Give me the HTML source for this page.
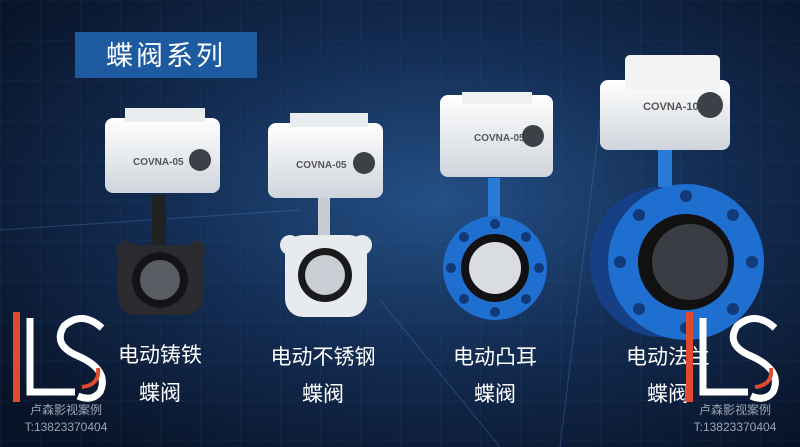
<!DOCTYPE html>
<html><head><meta charset="utf-8"><style>
html,body{margin:0;padding:0;width:800px;height:447px;overflow:hidden;background:#0b1830}
</style></head><body>
<svg width="800" height="447" viewBox="0 0 800 447" xmlns="http://www.w3.org/2000/svg" style="font-family:'Liberation Sans','Noto Sans CJK SC',sans-serif">
<defs>
<radialGradient id="bg" cx="0.55" cy="0.45" r="0.7">
<stop offset="0" stop-color="#245086"/><stop offset="0.5" stop-color="#132c52"/><stop offset="1" stop-color="#081327"/>
</radialGradient>
<linearGradient id="act" x1="0" y1="0" x2="0" y2="1"><stop offset="0" stop-color="#ffffff"/><stop offset="1" stop-color="#cfd5dc"/></linearGradient>
<pattern id="grid" width="40" height="40" patternUnits="userSpaceOnUse"><path d="M40 0H0V40" fill="none" stroke="#3a6aa0" stroke-opacity="0.18" stroke-width="1"/></pattern>
</defs>
<rect width="800" height="447" fill="url(#bg)"/>
<rect width="800" height="447" fill="url(#grid)"/>
<path d="M380 300 L500 447 M600 120 L560 447 M0 230 L300 210" stroke="#4b86c8" stroke-opacity="0.35"/>
<rect x="75" y="32" width="182" height="46" fill="#1d5aa0"/>
<text x="166" y="65" fill="#fff" font-size="27" text-anchor="middle" letter-spacing="3">蝶阀系列</text>

<!-- valve1 -->
<rect x="152" y="195" width="14" height="60" fill="#222"/>
<rect x="118" y="245" width="85" height="70" rx="18" fill="#2a2b2f"/>
<circle cx="125" cy="250" r="9" fill="#2a2b2f"/><circle cx="196" cy="250" r="9" fill="#2a2b2f"/>
<circle cx="160" cy="280" r="28" fill="#141416"/><circle cx="160" cy="280" r="20" fill="#5a5d63"/>
<rect x="105" y="118" width="115" height="75" rx="8" fill="url(#act)"/>
<rect x="125" y="108" width="80" height="14" fill="#e9ecef"/>
<text x="133" y="165" font-size="10" font-weight="bold" fill="#555">COVNA-05</text>
<circle cx="200" cy="160" r="11" fill="#3c4148"/>

<!-- valve2 -->
<rect x="318" y="198" width="12" height="40" fill="#c8cdd3"/>
<rect x="285" y="235" width="82" height="82" rx="18" fill="#e8ebee"/>
<circle cx="290" cy="245" r="10" fill="#e8ebee"/><circle cx="362" cy="245" r="10" fill="#e8ebee"/>
<circle cx="325" cy="275" r="27" fill="#1a1a1c"/><circle cx="325" cy="275" r="20" fill="#c9ced4"/>
<rect x="268" y="123" width="115" height="75" rx="8" fill="url(#act)"/>
<rect x="290" y="113" width="78" height="14" fill="#e9ecef"/>
<text x="296" y="168" font-size="10" font-weight="bold" fill="#555">COVNA-05</text>
<circle cx="364" cy="163" r="11" fill="#3c4148"/>

<!-- valve3 -->
<rect x="488" y="178" width="12" height="40" fill="#2a7ad8"/>
<circle cx="495" cy="268" r="52" fill="#1f6fd0"/>
<g fill="#123a78"><circle cx="495" cy="224" r="5"/><circle cx="495" cy="312" r="5"/><circle cx="451" cy="268" r="5"/><circle cx="539" cy="268" r="5"/><circle cx="464" cy="237" r="5"/><circle cx="526" cy="237" r="5"/><circle cx="464" cy="299" r="5"/><circle cx="526" cy="299" r="5"/></g>
<circle cx="495" cy="268" r="34" fill="#111"/><circle cx="495" cy="268" r="26" fill="#d9dde2"/>
<rect x="440" y="95" width="113" height="82" rx="8" fill="url(#act)"/>
<rect x="462" y="92" width="70" height="12" fill="#eef0f2"/>
<text x="474" y="141" font-size="10" font-weight="bold" fill="#555">COVNA-05</text>
<circle cx="533" cy="136" r="11" fill="#3c4148"/>

<!-- valve4 -->
<rect x="658" y="150" width="14" height="40" fill="#2a7ad8"/>
<ellipse cx="660" cy="262" rx="70" ry="75" fill="#163f86"/>
<circle cx="686" cy="262" r="78" fill="#1f6fd0"/>
<g fill="#123a78"><circle cx="686" cy="196" r="6"/><circle cx="686" cy="328" r="6"/><circle cx="620" cy="262" r="6"/><circle cx="752" cy="262" r="6"/><circle cx="639" cy="215" r="6"/><circle cx="733" cy="215" r="6"/><circle cx="639" cy="309" r="6"/><circle cx="733" cy="309" r="6"/></g>
<circle cx="686" cy="262" r="48" fill="#111"/><circle cx="690" cy="262" r="38" fill="#3a3d44"/>
<rect x="600" y="80" width="130" height="70" rx="8" fill="url(#act)"/>
<rect x="625" y="55" width="95" height="35" rx="5" fill="#f1f3f5"/>
<text x="643" y="110" font-size="11" font-weight="bold" fill="#555">COVNA-10</text>
<circle cx="710" cy="105" r="13" fill="#3c4148"/>

<g fill="#fff" font-size="21" text-anchor="middle">
<text x="160" y="362">电动铸铁</text><text x="160" y="400">蝶阀</text>
<text x="323" y="364">电动不锈钢</text><text x="323" y="401">蝶阀</text>
<text x="495" y="364">电动凸耳</text><text x="495" y="401">蝶阀</text>
<text x="668" y="364">电动法兰</text><text x="668" y="401">蝶阀</text>
</g>

<rect x="13" y="312" width="7" height="90" fill="#e04a2f"/>
<path d="M30 318 V392 H75" stroke="#fff" stroke-width="7" fill="none"/>
<path d="M102 328 Q82 310 64 326 Q52 345 78 356 Q110 370 100 392 Q92 402 78 396" stroke="#fff" stroke-width="7" fill="none"/>
<path d="M98 368 Q100 385 82 387" stroke="#e04a2f" stroke-width="4" fill="none"/>
<text x="66" y="414" font-size="12" fill="#9aa6b5" text-anchor="middle">卢森影视案例</text>
<text x="66" y="431" font-size="12" fill="#9aa6b5" text-anchor="middle">T:13823370404</text>
<rect x="686" y="312" width="7" height="90" fill="#e04a2f"/>
<path d="M703 318 V392 H748" stroke="#fff" stroke-width="7" fill="none"/>
<path d="M775 328 Q755 310 737 326 Q725 345 751 356 Q783 370 773 392 Q765 402 751 396" stroke="#fff" stroke-width="7" fill="none"/>
<path d="M771 368 Q773 385 755 387" stroke="#e04a2f" stroke-width="4" fill="none"/>
<text x="735" y="414" font-size="12" fill="#9aa6b5" text-anchor="middle">卢森影视案例</text>
<text x="735" y="431" font-size="12" fill="#9aa6b5" text-anchor="middle">T:13823370404</text>
</svg>
</body></html>
